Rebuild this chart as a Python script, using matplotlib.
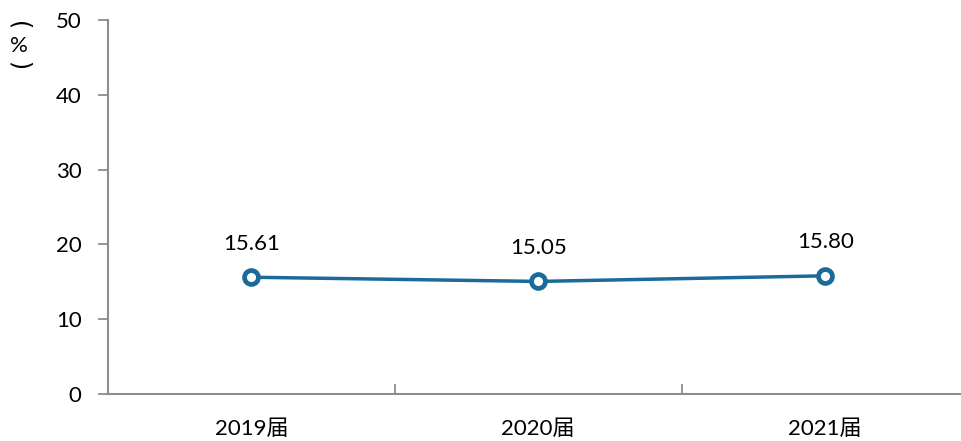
import matplotlib.pyplot as plt

plt.rcParams['font.family'] = ['Lato', 'Noto Sans CJK SC', 'DejaVu Sans']

categories = ['2019届', '2020届', '2021届']
values = [15.61, 15.05, 15.80]
labels = ['15.61', '15.05', '15.80']

line_color = '#1a6a9a'
axis_color = '#8c8c8c'

fig = plt.figure(figsize=(9.61, 4.41), dpi=100)
ax = fig.add_axes([0.1124, 0.1066, 0.8866, 0.848])

x = list(range(len(categories)))
ax.plot(x, values, color=line_color, linewidth=2.5, marker='o', markersize=10,
        markerfacecolor='white', markeredgecolor=line_color, markeredgewidth=3.4)

for xi, v, lab in zip(x, values, labels):
    ax.annotate(lab, (xi, v), xytext=(0, 17), textcoords='offset points',
                ha='center', va='bottom', fontsize=16)

ax.set_ylim(0, 50)
ax.set_yticks([0, 10, 20, 30, 40, 50])
ax.set_xlim(-0.5, 2.47)
ax.set_xticks([0.5, 1.5])
ax.set_xticklabels([])
ax.tick_params(axis='x', direction='in', length=7, color=axis_color, width=1.3)
ax.tick_params(axis='y', direction='out', length=7, color=axis_color, width=1.3,
               labelsize=16, pad=12)
for xi, c in zip(x, categories):
    ax.text(xi, -3.3, c, ha='center', va='top', fontsize=16)

for side in ['top', 'right']:
    ax.spines[side].set_visible(False)
for side in ['left', 'bottom']:
    ax.spines[side].set_color(axis_color)
    ax.spines[side].set_linewidth(1.5)

# vertical unit label: parentheses turned, % upright
fig.text(19 / 961, 1 - 26 / 441, '(', rotation=270, ha='center', va='center',
         fontsize=17, family='DejaVu Sans', rotation_mode='anchor')
fig.text(19 / 961, 1 - 46 / 441, '%', ha='center', va='center', fontsize=16)
fig.text(19 / 961, 1 - 66 / 441, ')', rotation=270, ha='center', va='center',
         fontsize=17, family='DejaVu Sans', rotation_mode='anchor')

fig.savefig('out.png', dpi=100)
